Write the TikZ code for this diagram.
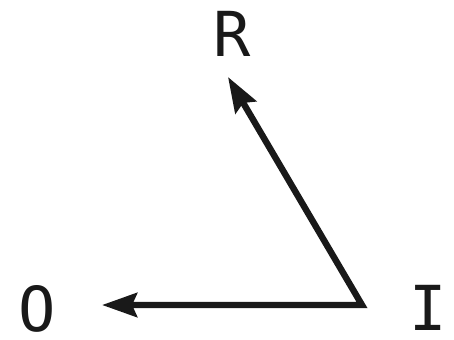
\documentclass[tikz,border=0pt]{standalone}
\usepackage{fontspec}
\setmainfont{DejaVu Sans Mono}
\usetikzlibrary{arrows.meta}
\begin{document}
\begin{tikzpicture}[x=1pt,y=1pt,
  lbl/.style={inner sep=0pt, font=\fontsize{31}{31}\selectfont, text=black!90},
  vec/.style={line width=3.2pt, draw=black!90, line join=miter,
    {Stealth[length=17.5pt,width=12pt,inset=2.5pt]}-{Stealth[length=17.5pt,width=12pt,inset=2.5pt]}}]
\useasboundingbox (0,0) rectangle (227,169.5);
\node[lbl] (R) at (116,152.5) {R};
\node[lbl] (O) at (18.5,15) {O};
\node[lbl] (I) at (214,15.5) {I};
\coordinate (v) at (181,17);
\coordinate (tR) at (114,131);
\coordinate (tO) at (51,17);
\draw[vec] (tR) -- (v) -- (tO);
\end{tikzpicture}
\end{document}
